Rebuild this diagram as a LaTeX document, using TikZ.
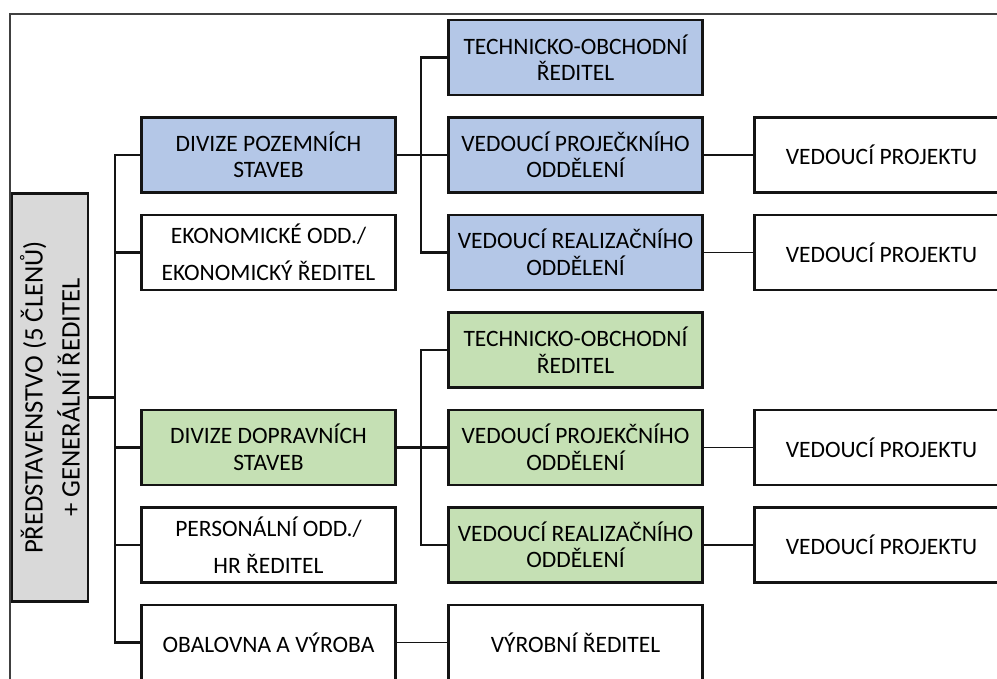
\documentclass[tikz,border=0pt]{standalone}
\usepackage{fontspec}
\setmainfont{Carlito}
\definecolor{bluec}{HTML}{B4C7E7}
\definecolor{greenc}{HTML}{C5E0B4}
\definecolor{grayc}{HTML}{D9D9D9}
\definecolor{linec}{HTML}{141414}
\begin{document}
\begin{tikzpicture}[x=1pt,y=-1pt,
  box/.style={draw=linec, line width=2.6pt, minimum width=254pt, minimum height=75pt,
    inner sep=0pt, outer sep=0pt, align=center, text=black,
    font=\fontsize{23.5}{26.5}\selectfont},
  bluebox/.style={box, fill=bluec},
  greenbox/.style={box, fill=greenc},
  thickc/.style={draw=linec, line width=2.6pt, line join=miter},
  thinc/.style={draw=linec, line width=1.2pt},
  framec/.style={draw=black!75, line width=1.1pt}]
\useasboundingbox (0,0) rectangle (997,679);
\clip (0,0) rectangle (997,679);
% outer frame (cut by the picture edges)
\draw[framec] (10,700) -- (10,14) -- (1020,14);
% board
\node[box, fill=grayc, minimum width=408pt, minimum height=76pt, rotate=90,
  font=\fontsize{26.7}{30}\selectfont] (board) at (50,397.5)
  {PŘEDSTAVENSTVO (5 ČLENŮ)\\[7pt]+ GENERÁLNÍ ŘEDITEL};
% level 2
\node[bluebox] (divpoz) at (268.5,155) {DIVIZE POZEMNÍCH\\STAVEB};
\node[box] (ekon) at (268.5,252.5) {EKONOMICKÉ ODD./\\[11pt]EKONOMICKÝ ŘEDITEL};
\node[greenbox] (divdop) at (268.5,447.5) {DIVIZE DOPRAVNÍCH\\STAVEB};
\node[box] (pers) at (268.5,545) {PERSONÁLNÍ ODD./\\[11pt]HR ŘEDITEL};
\node[box] (obal) at (268.5,642.5) {OBALOVNA A VÝROBA};
% level 3
\node[bluebox] (tech1) at (575.5,57.5) {TECHNICKO-OBCHODNÍ\\ŘEDITEL};
\node[bluebox] (proj1) at (575.5,155) {VEDOUCÍ PROJEČKNÍHO\\ODDĚLENÍ};
\node[bluebox] (real1) at (575.5,252.5) {VEDOUCÍ REALIZAČNÍHO\\ODDĚLENÍ};
\node[greenbox] (tech2) at (575.5,350) {TECHNICKO-OBCHODNÍ\\ŘEDITEL};
\node[greenbox] (proj2) at (575.5,447.5) {VEDOUCÍ PROJEKČNÍHO\\ODDĚLENÍ};
\node[greenbox] (real2) at (575.5,545) {VEDOUCÍ REALIZAČNÍHO\\ODDĚLENÍ};
\node[box] (vyr) at (575.5,642.5) {VÝROBNÍ ŘEDITEL};
% level 4
\node[box] (vp1) at (881.5,155) {VEDOUCÍ PROJEKTU};
\node[box] (vp2) at (881.5,252.5) {VEDOUCÍ PROJEKTU};
\node[box] (vp3) at (881.5,447.5) {VEDOUCÍ PROJEKTU};
\node[box] (vp4) at (881.5,545) {VEDOUCÍ PROJEKTU};
% trunks
\coordinate (t) at (115,0);
\coordinate (s) at (421,0);
\draw[thickc] (board.south) -- (board.south -| t);
\draw[thickc] (divpoz.west) -- (divpoz.west -| t) -- (obal.west -| t) -- (obal.west);
\draw[thickc] (ekon.west) -- (ekon.west -| t);
\draw[thickc] (divdop.west) -- (divdop.west -| t);
\draw[thinc] (pers.west) -- (pers.west -| t);
\draw[thickc] (divpoz.east) -- (proj1.west);
\draw[thickc] (tech1.west) -- (tech1.west -| s) -- (real1.west -| s) -- (real1.west);
\draw[thickc] (divdop.east) -- (proj2.west);
\draw[thickc] (tech2.west) -- (tech2.west -| s) -- (real2.west -| s) -- (real2.west);
\draw[thinc] (proj1.east) -- (vp1.west);
\draw[thinc] (real1.east) -- (vp2.west);
\draw[thinc] (proj2.east) -- (vp3.west);
\draw[thinc] (real2.east) -- (vp4.west);
\draw[thinc] (obal.east) -- (vyr.west);
\end{tikzpicture}
\end{document}
